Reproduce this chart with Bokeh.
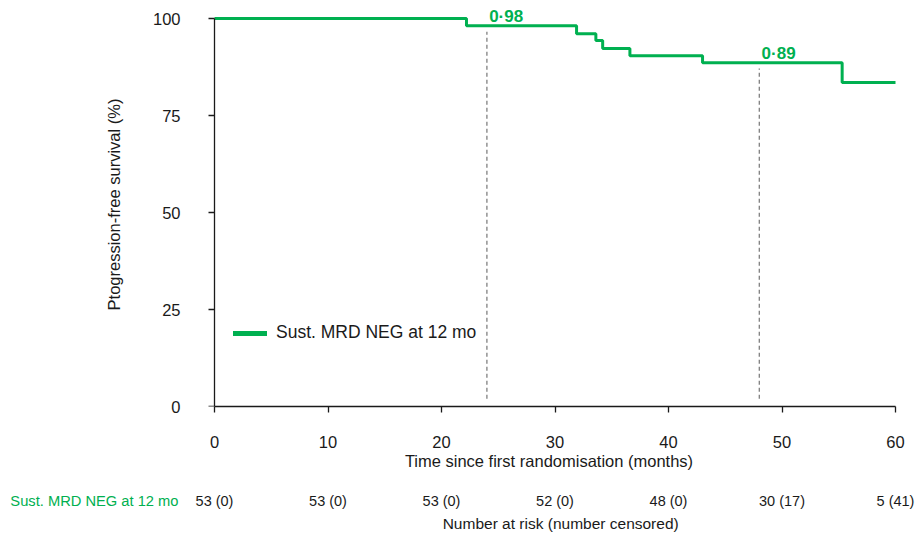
import math
from bokeh.plotting import figure
from bokeh.layouts import column
from bokeh.models import Label, Range1d, FixedTicker, Legend, LegendItem, LinearAxis
from bokeh.embed import file_html
from bokeh.resources import INLINE

# ---- data ----
months = [0, 22.2, 31.9, 33.6, 34.2, 36.6, 43.0, 55.3, 60]
survival = [100, 98.1, 96.1, 94.3, 92.3, 90.4, 88.6, 83.5, 83.5]
landmark_months = [24, 48]
landmark_surv = [0.98, 0.89]
landmark_curve = [98.1, 88.6]
risk_times = [0, 10, 20, 30, 40, 50, 60]
risk_labels = ["53 (0)", "53 (0)", "53 (0)", "52 (0)", "48 (0)", "30 (17)", "5 (41)"]
group_name = "Sust. MRD NEG at 12 mo"
x_ticks = [0, 10, 20, 30, 40, 50, 60]
y_ticks = [0, 25, 50, 75, 100]

GREEN = "#00B050"
FONT = "Liberation Sans"
TXT = "#1a1a1a"

PX_PER_MONTH = 681 / 60.0
PX_PER_PCT = 388 / 100.0
LEFT = 180            # frame starts a little left of month 0 (page x 214)
ORIGIN_PX = 214
FRAME_W = 917 - LEFT
FRAME_H = 404
TOP = 2

x_start = -(ORIGIN_PX - LEFT) / PX_PER_MONTH
x_rng = Range1d(x_start, x_start + FRAME_W / PX_PER_MONTH)

p = figure(frame_width=FRAME_W, frame_height=FRAME_H,
           min_border_left=LEFT, min_border_right=0, min_border_top=TOP, min_border_bottom=74,
           x_range=x_rng, y_range=Range1d(0, FRAME_H / PX_PER_PCT),
           output_backend="svg", toolbar_location=None, tools="")
p.outline_line_color = None
p.grid.visible = False
p.background_fill_color = "white"
p.border_fill_color = "white"


def style(ax):
    ax.axis_line_color = TXT
    ax.axis_line_width = 1.3
    ax.major_tick_line_color = TXT
    ax.major_tick_line_width = 1.3
    ax.major_tick_in = 0
    ax.major_tick_out = 6
    ax.minor_tick_line_color = None
    ax.major_label_text_font = FONT
    ax.major_label_text_font_size = "16.5px"
    ax.major_label_text_color = TXT
    ax.axis_label_text_font = FONT
    ax.axis_label_text_font_size = "16.5px"
    ax.axis_label_text_font_style = "normal"
    ax.axis_label_text_color = TXT


# x axis (at y = 0, frame bottom)
xa = p.xaxis[0]
style(xa)
xa.bounds = (0, 60)
xa.ticker = FixedTicker(ticks=x_ticks)
xa.axis_label = "Time since first randomisation (months)"
xa.major_label_standoff = 23
xa.axis_label_standoff = 1

# y axis: labels + title on the frame edge, rule + ticks at month 0
ylab = p.yaxis[0]
style(ylab)
ylab.ticker = FixedTicker(ticks=y_ticks)
ylab.bounds = (0, 100)
ylab.axis_line_color = None
ylab.major_tick_line_color = None
ylab.major_tick_out = 0
ylab.major_label_standoff = 0
ylab.axis_label = "Ptogression-free survival (%)"
ylab.axis_label_standoff = 27

yrule = LinearAxis(ticker=FixedTicker(ticks=y_ticks), bounds=(0, 100), fixed_location=0)
style(yrule)
yrule.major_label_text_color = None
yrule.major_label_standoff = 0
p.add_layout(yrule, "left")

# landmark dashed lines
p.segment(x0=landmark_months, y0=[2, 2], x1=landmark_months,
          y1=[c - 1.5 for c in landmark_curve],
          line_color="#7f7f7f", line_width=1.3, line_dash="4 3")

# KM curve
p.step(months, survival, mode="after", line_color=GREEN, line_width=3)

# landmark labels
for m, s, c in zip(landmark_months, landmark_surv, landmark_curve):
    p.add_layout(Label(x=m + 0.2, y=c + 2.45, text=f"{s:.2f}".replace(".", "·"),
                       text_font=FONT, text_font_size="17px", text_font_style="bold",
                       text_color=GREEN, text_align="left", text_baseline="middle"))

# legend
dummy = p.line(x=[math.nan], y=[math.nan], line_color=GREEN, line_width=5, line_cap="round")
legend = Legend(items=[LegendItem(label=group_name, renderers=[dummy])],
                location=(233 - LEFT, 63), glyph_width=34, glyph_height=20,
                label_standoff=9, padding=0, margin=0,
                label_text_font=FONT, label_text_font_size="17.5px", label_text_color=TXT,
                border_line_color=None, background_fill_alpha=0)
p.add_layout(legend, "center")

# number at risk table (second strip sharing the month scale)
STRIP_H = 57
row_y = 20
t = figure(frame_width=FRAME_W, frame_height=STRIP_H,
           min_border_left=LEFT, min_border_right=0, min_border_top=0, min_border_bottom=0,
           x_range=x_rng, y_range=Range1d(STRIP_H, 0),
           output_backend="svg", toolbar_location=None, tools="")
t.xaxis.visible = False
t.grid.visible = False
t.outline_line_color = None
t.background_fill_color = "white"
t.border_fill_color = "white"
ya = t.yaxis[0]
ya.ticker = FixedTicker(ticks=[row_y])
ya.major_label_overrides = {row_y: group_name}
ya.axis_line_color = None
ya.major_tick_line_color = None
ya.minor_tick_line_color = None
ya.major_tick_out = 0
ya.major_tick_in = 0
ya.major_label_standoff = 2
ya.major_label_text_font = FONT
ya.major_label_text_font_size = "14.7px"
ya.major_label_text_color = GREEN

t.text(x=risk_times, y=[row_y] * len(risk_times), text=risk_labels, text_font={"value": FONT},
       text_font_size="14.5px", text_color=TXT, text_align="center", text_baseline="middle")
t.text(x=[30.5], y=[43], text=["Number at risk (number censored)"], text_font={"value": FONT},
       text_font_size="15.5px", text_color=TXT, text_align="center", text_baseline="middle")

layout = column(p, t, spacing=0)
open("out.html", "w").write(file_html(layout, INLINE))
